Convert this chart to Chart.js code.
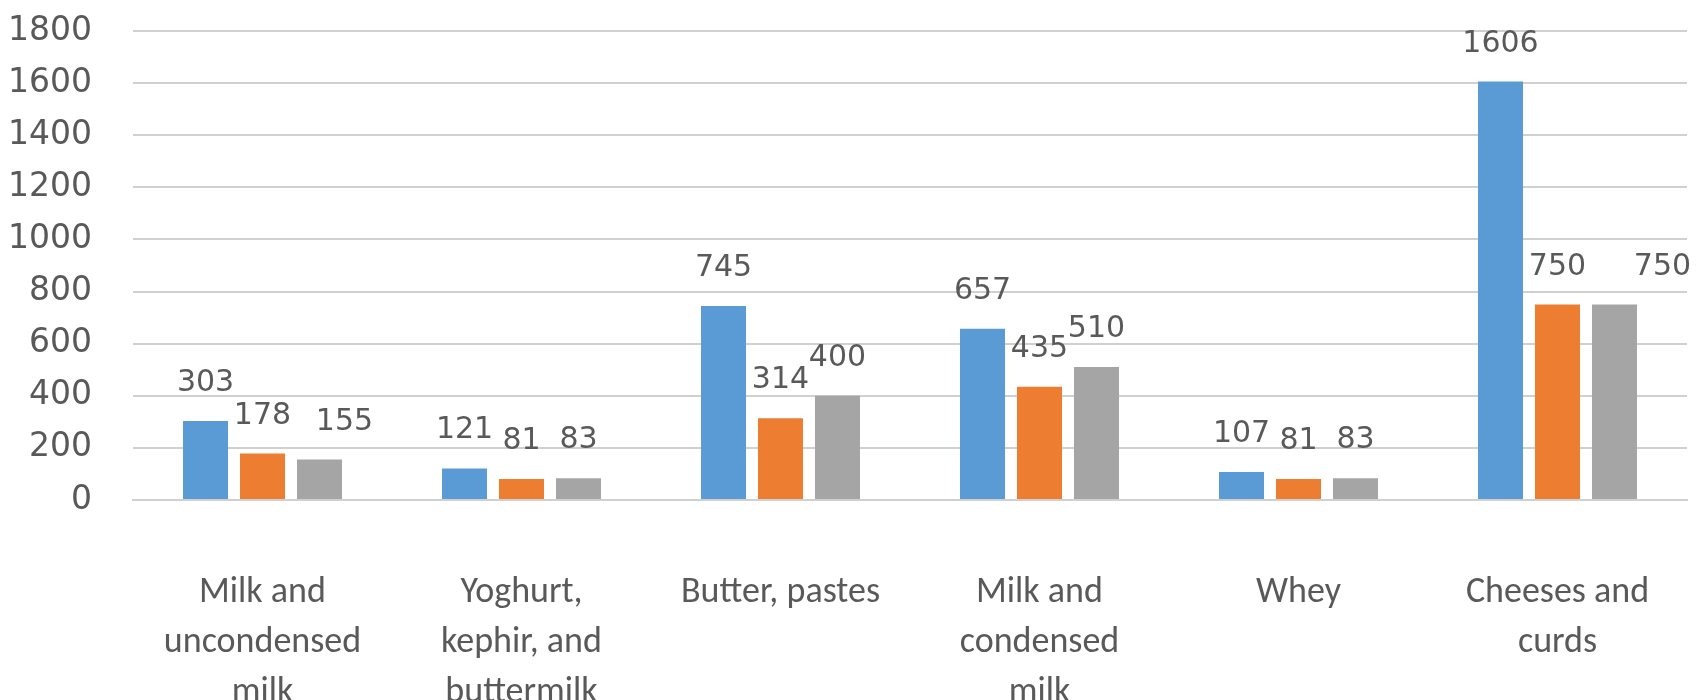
<!DOCTYPE html>
<html>
<head>
<meta charset="utf-8">
<script src="https://cdn.jsdelivr.net/npm/chart.js@4/dist/chart.umd.min.js"></script>
<style>
  html, body { margin: 0; padding: 0; background: #fff; }
  #wrap { width: 1697px; height: 700px; position: relative; }
</style>
</head>
<body>
<div id="wrap"><canvas id="myChart"></canvas></div>
<script>
const categories = [
  ["Milk and", "uncondensed", "milk"],
  ["Yoghurt,", "kephir, and", "buttermilk"],
  ["Butter, pastes"],
  ["Milk and", "condensed", "milk"],
  ["Whey"],
  ["Cheeses and", "curds"],
];
const series1 = [303, 121, 745, 657, 107, 1606];
const series2 = [178, 81, 314, 435, 81, 750];
const series3 = [155, 83, 400, 510, 83, 750];
const yTicks = [0, 200, 400, 600, 800, 1000, 1200, 1400, 1600, 1800];

// a few labels in the original were dragged sideways a little
const labelNudge = [
  [0, 0, 0, 0, 0, 0],
  [0, 0, 0, 0, 0, 0],
  [25, 0, 0, 0, 0, 48],
];

const textGrey = "#595959";

const barLabels = {
  id: "barLabels",
  afterDatasetsDraw(chart) {
    const ctx = chart.ctx;
    ctx.save();
    ctx.font = "30px 'DejaVu Sans'";
    ctx.fillStyle = textGrey;
    ctx.textAlign = "center";
    ctx.textBaseline = "alphabetic";
    chart.data.datasets.forEach((ds, di) => {
      const meta = chart.getDatasetMeta(di);
      meta.data.forEach((bar, i) => {
        ctx.fillText(String(ds.data[i]), bar.x + labelNudge[di][i], bar.y - 30);
      });
    });
    ctx.restore();
  },
};

const chartIt = () => {
  const ctx = document.getElementById("myChart").getContext("2d");
  new Chart(ctx, {
    type: "bar",
    data: {
      labels: categories,
      datasets: [
        { label: "Series 1", data: series1, backgroundColor: "#5B9BD5" },
        { label: "Series 2", data: series2, backgroundColor: "#ED7D31" },
        { label: "Series 3", data: series3, backgroundColor: "#A5A5A5" },
      ],
    },
    options: {
      responsive: true,
      maintainAspectRatio: false,
      animation: false,
      datasets: {
        bar: { categoryPercentage: 0.66, barPercentage: 0.79 },
      },
      layout: { padding: { top: 31, right: 10, bottom: 0, left: 0 } },
      plugins: {
        legend: { display: false },
        tooltip: { enabled: false },
      },
      scales: {
        x: {
          grid: { display: false, drawTicks: false },
          border: { color: "#d0d0d0", width: 2 },
          ticks: {
            color: textGrey,
            font: { family: "Carlito, Lato, sans-serif", size: 36, lineHeight: 50 / 36 },
            padding: 68,
            maxRotation: 0,
            autoSkip: false,
          },
          afterFit(scale) {
            scale.height = 200;
            scale.paddingLeft = 0;
            scale.paddingRight = 0;
          },
        },
        y: {
          min: 0,
          max: 1800,
          afterBuildTicks(scale) {
            scale.ticks = yTicks.map((v) => ({ value: v }));
          },
          grid: { color: "#d0d0d0", lineWidth: 2, drawTicks: false },
          border: { display: false },
          ticks: {
            color: textGrey,
            font: { family: "'DejaVu Sans'", size: 33 },
            padding: 41,
            callback: (v) => String(v),
          },
          afterFit(scale) {
            scale.width = 133;
            scale.paddingTop = 0;
            scale.paddingBottom = 0;
          },
        },
      },
    },
    plugins: [barLabels],
  });
};

chartIt();
</script>
</body>
</html>
